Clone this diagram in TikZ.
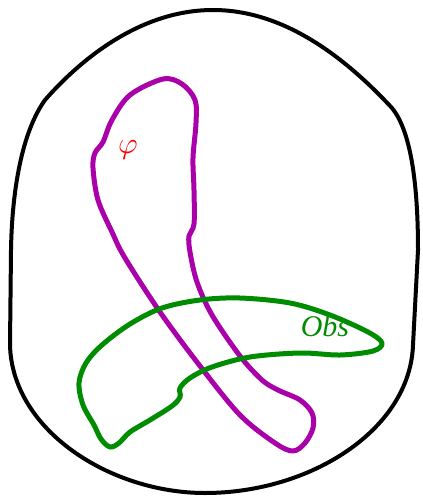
\documentclass[tikz,border=0pt]{standalone}
\usepackage{graphicx}
\usepackage{fontspec}
\newfontfamily\obsfont{Liberation Serif}
\begin{document}
\begin{tikzpicture}[x=1pt,y=-1pt,line join=round,
  outline/.style={draw=black,line width=4pt},
  phiset/.style={draw={rgb,255:red,170;green,0;blue,170},line width=5pt},
  obsset/.style={draw={rgb,255:red,0;green,140;blue,0},line width=5pt}]
\useasboundingbox (0,0) rectangle (423,496);
% outer region
\draw[outline] (213,10) .. controls (140,10) and (80,60) .. (45,100)
  .. controls (22,132) and (12,190) .. (11,250) -- (10,345)
  .. controls (12,430) and (110,493) .. (205,493)
  .. controls (310,493) and (410,430) .. (413,345) -- (418,250)
  .. controls (418,180) and (410,130) .. (392,108)
  .. controls (340,52) and (280,10) .. (213,10) -- cycle;
% phi set
\draw[phiset] plot[smooth cycle,tension=0.55] coordinates {
 (163,79) (130,95) (112,120) (103,142) (95,153) (93,168) (98,200) (112,232)
 (125,258) (160,312) (200,366) (240,415) (275,443) (293,451) (305,443)
 (313,428) (312,413) (300,400) (278,390) (262,380) (240,356) (212,315)
 (197,282) (190,252) (189,236) (194,224) (194,190) (193,158) (196,123)
 (195,100) (182,84)};
% obs set
\draw[obsset] plot[smooth cycle,tension=0.55] coordinates {
 (240,298) (290,303) (330,315) (368,332) (382,343) (373,351) (340,355)
 (300,353) (250,357) (212,367) (190,378) (180,388) (180,397) (172,406)
 (150,420) (130,432) (119,443) (110,447) (101,439) (94,425) (83,405)
 (79,383) (86,363) (102,345) (130,324) (162,308) (200,300)};
\node[text={rgb,255:red,255;green,0;blue,0}] (phi) at (128,150) {\scalebox{3}{$\varphi$}};
\node[text={rgb,255:red,0;green,140;blue,0},font=\obsfont\itshape\fontsize{30}{30}\selectfont] (obs) at (325,326) {Obs};
\end{tikzpicture}
\end{document}
